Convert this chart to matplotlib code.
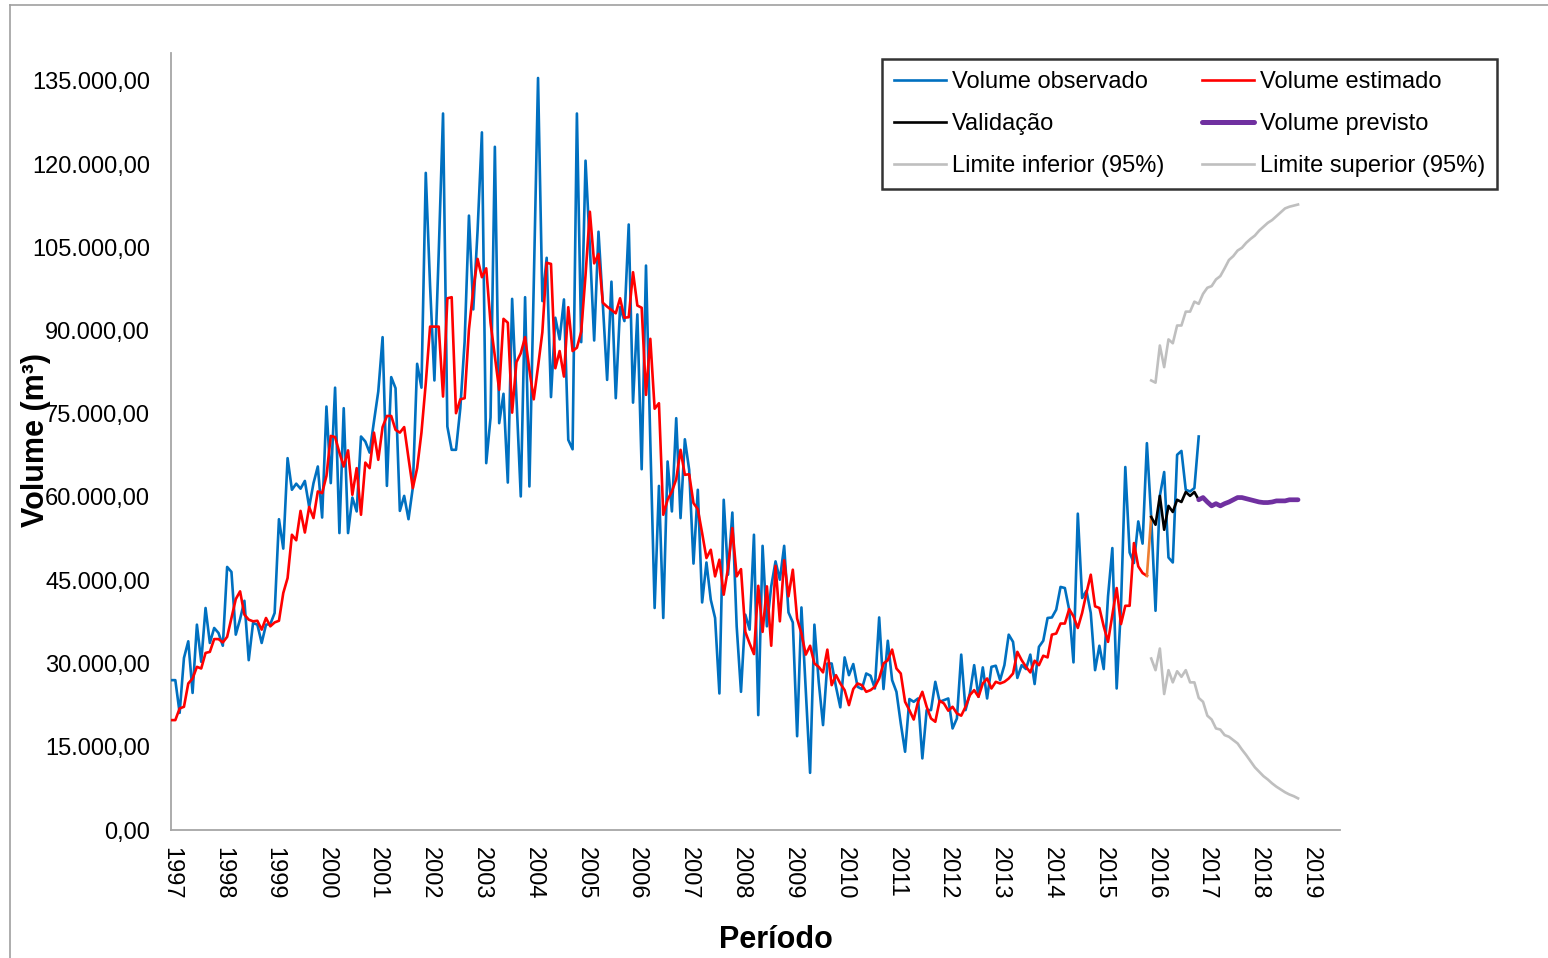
"""
Volume observado x estimado, validação e previsão (1997-2018).
"""

import matplotlib
matplotlib.use("Agg")
import matplotlib.pyplot as plt
import numpy as np
from matplotlib.lines import Line2D
from matplotlib.ticker import FuncFormatter, MultipleLocator

plt.rcParams["font.family"] = ["Liberation Sans", "DejaVu Sans"]

START_YEAR = 1997

# monthly series, first value = Jan/1997
observado = [
    27000, 27000, 21100, 31000, 34000, 24700, 37000, 30300, 40000, 33700, 36400, 35500,
    33200, 47400, 46500, 35200, 38000, 41300, 30600, 37300, 37000, 33700, 37000, 37100,
    39100, 56000, 50700, 67000, 61300, 62400, 61500, 62900, 58200, 62500, 65500, 56300,
    76300, 62500, 79700, 53500, 76000, 53500, 59900, 57400, 70900, 70000, 68000, 73600,
    79000, 88800, 62000, 81600, 79600, 57500, 60200, 56000, 61700, 84000, 79700, 118400,
    98000, 81000, 104000, 129100, 72700, 68500, 68500, 76000, 88000, 110700, 93800, 108000,
    125700, 66100, 74300, 123100, 73300, 78600, 62600, 95700, 78000, 60100, 96000, 61900,
    98000, 135500, 95300, 103100, 78000, 92300, 88400, 95600, 70300, 68600, 129100, 87900,
    120600, 105000, 88200, 107800, 94800, 81100, 98800, 77800, 94200, 91700, 109100, 77000,
    92900, 65000, 101700, 70000, 40000, 62000, 38200, 66400, 57400, 74200, 56200, 70400,
    64900, 48000, 61300, 41000, 48200, 41500, 38200, 24600, 59500, 46000, 57200, 36700,
    24900, 38800, 36100, 53200, 20700, 51200, 36700, 43900, 48400, 45100, 51200, 39200,
    37400, 16900, 40100, 25200, 10300, 37000, 26700, 18900, 30000, 30000, 25800, 22100,
    31100, 27900, 29900, 25800, 25400, 28200, 27800, 25500, 38300, 25400, 34100, 27000,
    24900, 19200, 14100, 23600, 23100, 23700, 12900, 21600, 21600, 26700, 23100, 23400,
    23700, 18300, 20100, 31600, 21600, 24600, 29700, 24000, 29300, 23700, 29400, 29600,
    27000, 29700, 35200, 33900, 27400, 29700, 29000, 31600, 26300, 33000, 34100, 38200,
    38300, 39700, 43800, 43600, 39700, 30200, 57000, 41800, 43100, 39100, 28800, 33200,
    29000, 42100, 50800, 25500, 40300, 65400, 50000, 48100, 55600, 51600, 69700, 56300,
    39500, 60200, 64500, 49100, 48200, 67600, 68300, 61300, 61000, 61600, 70900,
]

estimado = [
    19800, 19800, 21900, 22200, 26400, 27300, 29400, 29100, 31900, 32100, 34400, 34400,
    33800, 34800, 38200, 41600, 43000, 38800, 37900, 37600, 37700, 36100, 38200, 36700,
    37400, 37700, 42700, 45400, 53200, 52200, 57500, 53600, 58200, 56200, 61000, 60700,
    63800, 71000, 70800, 68000, 65500, 68400, 60400, 65200, 56800, 66200, 65200, 71600,
    66700, 72600, 74600, 74600, 72100, 71600, 72600, 67000, 61600, 65200, 71600, 80500,
    90700, 90700, 90700, 78100, 95800, 96000, 75100, 77600, 77800, 90200, 97400, 102900,
    99600, 101200, 91400, 85300, 79300, 92100, 91400, 75200, 84300, 85900, 88800, 82900,
    77600, 83500, 89700, 102200, 102000, 83200, 86300, 81700, 94200, 86300, 86900, 89800,
    100000, 111400, 102100, 103800, 95000, 94300, 93700, 93100, 95800, 92300, 92400, 100500,
    94500, 94100, 78400, 88500, 75900, 76900, 56800, 59500, 61000, 63200, 68500, 64000,
    64100, 58900, 57800, 53500, 49000, 50500, 45700, 48700, 42400, 47200, 54400, 45700,
    47000, 35700, 33600, 31700, 44000, 35700, 43900, 33200, 47600, 37600, 48600, 42100,
    46900, 38100, 35400, 31600, 33200, 30000, 29400, 28400, 32500, 26100, 27900, 26400,
    25200, 22500, 25400, 26400, 26100, 24900, 25200, 25800, 27300, 30000, 30600, 32500,
    29100, 28200, 23100, 21600, 19900, 23100, 24900, 22200, 20100, 19500, 23300, 22800,
    21500, 22200, 21000, 20600, 22200, 24300, 25200, 24000, 26400, 27300, 25500, 26700,
    26400, 26700, 27300, 28200, 32100, 30600, 29400, 28400, 30500, 29700, 31400, 31100,
    35200, 35400, 37200, 37200, 39800, 38500, 36400, 39100, 42700, 46000, 40300, 40000,
    36700, 33900, 38800, 43600, 37100, 40400, 40400, 51700, 47500, 46300, 45800,
]

# Dec/2015 - Nov/2016
validacao = [56400, 55000, 60200, 54100, 58400, 57300, 59500, 59100, 60900, 60200, 60900, 59500]
VALID_START = 227

# Nov/2016 - Oct/2018
previsto = [
    59500, 59900, 59100, 58400, 58800, 58400, 58800, 59100, 59500, 59900, 59900, 59700,
    59500, 59300, 59100, 59000, 59000, 59100, 59300, 59300, 59300, 59500, 59500, 59500,
]
PREV_START = 238

# 95% band, Dec/2015 - Oct/2018
lim_inferior = [
    30900, 28800, 32700, 24500, 28800, 26600, 28600, 27600, 28800, 26600, 26600, 23800,
    23100, 20600, 19900, 18300, 18100, 17100, 16800, 16200, 15600, 14500, 13500, 12400,
    11300, 10500, 9700, 9100, 8400, 7800, 7300, 6800, 6400, 6100, 5700,
]
lim_superior = [
    81000, 80600, 87300, 83400, 88400, 87700, 90900, 90900, 93400, 93400, 95200, 94800,
    96600, 97700, 98000, 99200, 99800, 101200, 102700, 103400, 104400, 104900, 105800, 106500,
    107100, 108000, 108700, 109400, 109900, 110600, 111300, 112000, 112300, 112500, 112700,
]
BAND_START = 227

year_ticks = list(range(1997, 2020))

W, H = 1548, 958
LW = 1.9


def months(start, n):
    return START_YEAR + (start + np.arange(n)) / 12.0


def br_number(v, _pos=None):
    s = f"{v:,.2f}"
    return s.replace(",", "X").replace(".", ",").replace("X", ".")


def main():
    fig = plt.figure(figsize=(W / 100, H / 100), dpi=100, facecolor="white")
    ax = fig.add_axes([171 / W, 1 - 830 / H, (1340 - 171) / W, (830 - 53) / H])

    x_obs = months(0, len(observado))
    x_est = months(0, len(estimado))
    x_val = months(VALID_START, len(validacao))
    x_prev = months(PREV_START, len(previsto))
    x_band = months(BAND_START, len(lim_inferior))

    ax.plot(x_band, lim_inferior, color="#BFBFBF", lw=LW, zorder=2)
    ax.plot(x_band, lim_superior, color="#BFBFBF", lw=LW, zorder=2)
    ax.plot(x_obs, observado, color="#0070C0", lw=LW, zorder=3)
    ax.plot(x_est, estimado, color="#FF0000", lw=LW, zorder=4)
    # joins the fitted series to the validation run
    ax.plot([x_est[-1], x_val[0]], [estimado[-1], validacao[0]], color="#ED7D31", lw=LW, zorder=4)
    ax.plot(x_val, validacao, color="black", lw=LW, zorder=5)
    ax.plot(x_prev, previsto, color="#7030A0", lw=3.4, zorder=6, solid_capstyle="round")

    ax.set_xlim(1997, 2019.56)
    ax.set_ylim(0, 140000)
    ax.set_xticks(year_ticks)
    ax.set_xticklabels([str(y) for y in year_ticks], rotation=-90, fontsize=17)
    ax.yaxis.set_major_locator(MultipleLocator(15000))
    ax.yaxis.set_major_formatter(FuncFormatter(br_number))
    ax.tick_params(axis="y", length=0, pad=15, labelsize=17)
    ax.tick_params(axis="x", length=0, pad=12)
    for s in ("top", "right"):
        ax.spines[s].set_visible(False)
    for s in ("left", "bottom"):
        ax.spines[s].set_color("#A6A6A6")
        ax.spines[s].set_linewidth(1.3)

    fig.text(776 / W, 1 - 940 / H, "Período", ha="center", va="center",
             fontsize=22, fontweight="bold")
    fig.text(36 / W, 1 - 440 / H, "Volume (m³)", ha="center", va="center",
             rotation=90, fontsize=22, fontweight="bold")

    handles = [
        Line2D([], [], color="#0070C0", lw=LW),
        Line2D([], [], color="black", lw=LW),
        Line2D([], [], color="#BFBFBF", lw=LW),
        Line2D([], [], color="#FF0000", lw=LW),
        Line2D([], [], color="#7030A0", lw=3.6, solid_capstyle="round"),
        Line2D([], [], color="#BFBFBF", lw=LW),
    ]
    labels = ["Volume observado", "Validação", "Limite inferior (95%)",
              "Volume estimado", "Volume previsto", "Limite superior (95%)"]
    leg = fig.legend(handles, labels, ncol=2, loc="upper right",
                     bbox_to_anchor=(1497 / W, 1 - 59 / H), bbox_transform=fig.transFigure,
                     fontsize=17, frameon=True, fancybox=False, borderaxespad=0,
                     handlelength=2.2, handletextpad=0.25, columnspacing=1.6,
                     labelspacing=0.85, borderpad=0.5)
    leg.get_frame().set_edgecolor("black")
    leg.get_frame().set_linewidth(1.8)

    # outer chart border
    fig.add_artist(Line2D([10 / W, 10 / W], [0, 1 - 5 / H], color="#A0A0A0", lw=1.2))
    fig.add_artist(Line2D([10 / W, 1], [1 - 5 / H, 1 - 5 / H], color="#A0A0A0", lw=1.2))

    fig.savefig("out.png", dpi=100, facecolor="white")
    plt.close(fig)


if __name__ == "__main__":
    main()
